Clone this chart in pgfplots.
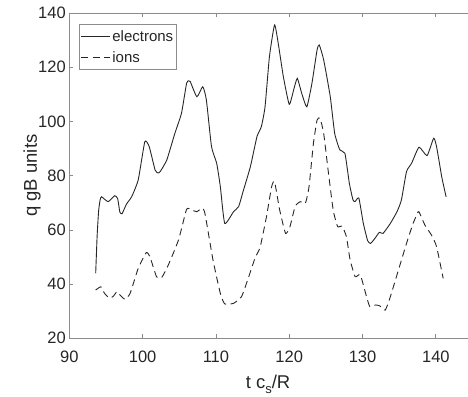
\documentclass[border=0pt]{standalone}
\usepackage{fontspec}
\setmainfont{Liberation Sans}
\usepackage{pgfplots}
\pgfplotsset{compat=1.18}

\definecolor{axiscol}{gray}{0.55}
\definecolor{textcol}{gray}{0.15}

\begin{document}
\begin{tikzpicture}
\begin{axis}[
  at={(69.3pt,57.7pt)}, anchor=south west,
  scale only axis, width=403.2pt, height=325.3pt,
  xmin=90, xmax=145, ymin=20, ymax=140,
  xtick={90,100,...,140}, ytick={20,40,...,140},
  tick align=inside, major tick length=4pt,
  axis line style={axiscol, line width=0.7pt},
  every tick/.style={axiscol, line width=0.7pt},
  /pgf/number format/assume math mode=true,
  tick label style={font=\fontsize{16.5}{18}\selectfont, text=textcol},
  xticklabel style={yshift=-9pt},
  xlabel={t c\raisebox{-0.45ex}{\fontsize{13}{13}\selectfont s}/R},
  ylabel={q gB units},
  label style={font=\fontsize{18.5}{20}\selectfont, text=textcol},
  xlabel style={at={(axis description cs:0.493,-0.155)}, anchor=base, inner sep=0pt},
  ylabel style={at={(axis description cs:-0.0925,0.5)}, anchor=center},
  legend style={at={(0.0248,0.965)}, anchor=north west,
    draw=axiscol, line width=0.7pt, font=\fontsize{15}{17}\selectfont,
    text=textcol, inner xsep=1pt, inner ysep=4pt,
    nodes={inner sep=1.8pt}, row sep=4.8pt},
  legend cell align=left,
  legend image code/.code={\draw[#1] (0pt,0pt) -- (29pt,0pt);},
]
% electron heat flux
\addplot[black!85, line width=0.9pt, smooth, tension=0.3] coordinates {
(93.6,44) (93.8,58) (94.0,67) (94.2,71) (94.4,72.2) (95.3,70.4) (96.2,72.6)
(96.6,71.5) (96.9,66.5) (97.2,66) (97.8,69.5) (98.5,72.2) (99.4,78.4)
(100.3,92.5) (100.9,90.7) (101.7,82.1) (102.1,81.0) (102.4,81.5) (103.3,85.8)
(104.4,95.6) (105.3,103) (106.0,114.1) (106.3,115) (106.5,114.7) (107.4,109.1)
(108.2,112.8) (108.7,107.9) (109.4,90.7) (110.1,84.6) (110.6,76) (111.2,62.4)
(112.4,66.7) (113.1,68.6) (113.7,74.1) (114.7,83.3) (115.6,94.4) (116.2,98.1)
(116.7,105.4) (117.3,123.9) (118.0,135.6) (118.5,128.8) (119.2,116.5)
(120.0,106.3) (120.6,111.6) (121.1,115.9) (121.7,110.4) (122.4,105.4)
(123.1,114.1) (123.8,126.4) (124.1,128.2) (124.7,122.7) (125.6,109.1)
(126.2,95.6) (126.9,89.5) (127.6,88.2) (128.2,77.2) (128.7,71.0) (129.0,70.5)
(129.5,71.7) (130.1,62.5) (130.7,56) (131.1,55.0) (131.7,56.9) (132.3,59.1)
(132.8,58.7) (133.8,62.4) (134.7,66.7) (135.3,71.0) (136.0,81.5) (136.7,84.6)
(137.7,90.5) (138.8,87.4) (139.7,93.8) (140.1,90.7) (140.8,79.6) (141.4,72.2)
};
\addlegendentry{electrons}
% ion heat flux
\addplot[black!85, line width=0.9pt, smooth, tension=0.3, dash pattern=on 7pt off 4.5pt] coordinates {
(93.6,37.8) (94.3,39.0) (94.8,36.6) (95.5,34.8) (96.0,35.5) (96.5,37.2)
(96.9,36) (97.6,34.4) (98.3,36.6) (99.4,45.8) (100.5,51.6) (101.0,50.1)
(101.9,42.7) (102.6,42.4) (103.5,47.0) (104.9,56.3) (106.0,67.6) (106.7,67.3)
(107.4,66.7) (108.1,68.0) (108.5,66.1) (109.6,48.9) (110.6,36.6) (111.2,32.7)
(112.4,32.9) (113.5,35.4) (114.4,42.1) (115.4,50.1) (116.0,53.2) (116.9,64.9)
(117.6,75.9) (118.0,77.8) (118.7,67.3) (119.5,58.7) (120.1,61.2) (120.8,68.6)
(121.5,70.4) (122.2,69.8) (122.7,75.9) (123.3,91.9) (123.8,100.5) (124.2,101.2)
(124.7,95.6) (125.3,82.1) (126.0,67.3) (126.6,61.2) (127.2,61.4) (127.8,57.5)
(128.3,49) (129.0,42.7) (129.7,43.4) (130.6,34.8) (131.0,31.7) (131.8,32.3)
(132.4,31.9) (133.1,30.4) (133.8,35.4) (134.9,45.2) (136.0,55.0) (136.9,62.4)
(137.6,66.7) (137.8,66.1) (138.5,61.8) (139.4,58.1) (140.1,53.8) (141.0,42.1)
};
\addlegendentry{ions}
\end{axis}
\pgfresetboundingbox
\useasboundingbox (0pt,0pt) rectangle (468pt,396pt);
\end{tikzpicture}
\end{document}
